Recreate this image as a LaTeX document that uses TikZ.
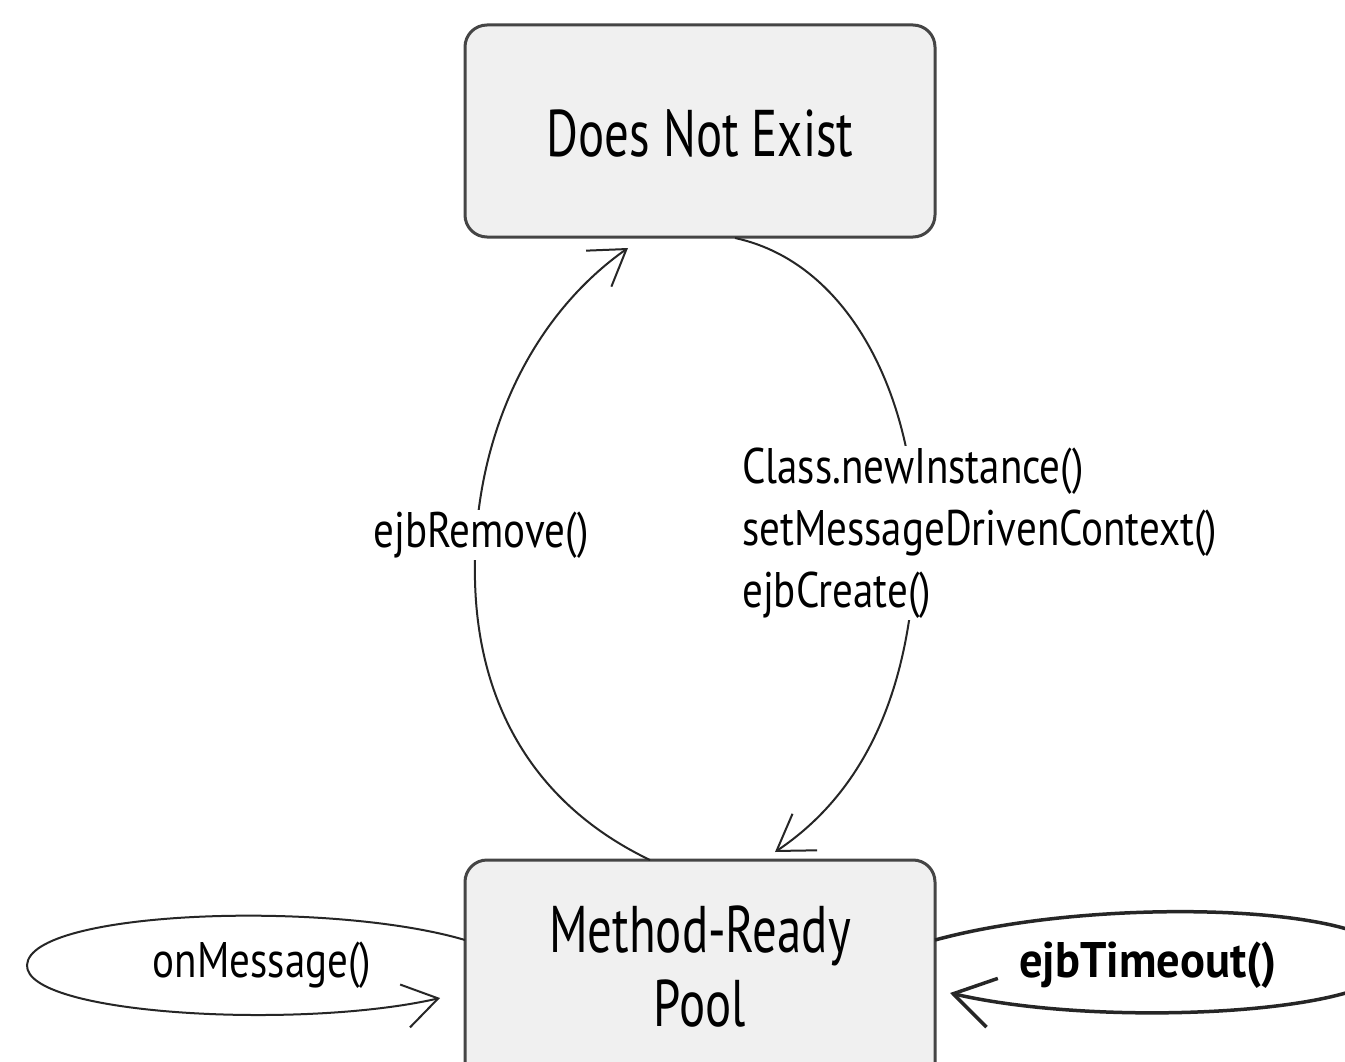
\documentclass[tikz,border=0pt]{standalone}
\usepackage{fontspec}
\setmainfont{PT Sans}[FakeStretch=0.78]
\newfontfamily\lblfont{PT Sans}[FakeStretch=0.82]
\newfontfamily\boxfont{PT Sans}[FakeStretch=0.74]
\newfontfamily\tofont{PT Sans}[FakeStretch=0.93]
\usetikzlibrary{arrows.meta}
\definecolor{boxfill}{HTML}{F0F0F0}
\definecolor{boxline}{HTML}{454545}
\tikzset{
  state/.style={draw=boxline, line width=3pt, fill=boxfill, rounded corners=22pt, inner sep=0pt},
  trans/.style={draw=black!85, line width=2pt, -{Straight Barb[length=34pt,width=44pt,line width=2pt]}},
  lbl/.style={fill=white, inner sep=2pt, font=\lblfont\fontsize{50}{62}\selectfont},
  statetext/.style={font=\boxfont\fontsize{66}{74}\selectfont}
}
\begin{document}
\begin{tikzpicture}[x=1pt,y=-1pt]
\useasboundingbox (0,0) rectangle (1345,1062);
\clip (0,0) rectangle (1345,1062);
\fill[white] (0,0) rectangle (1345,1062);
% states
\node[state, minimum width=470pt, minimum height=212pt] (top) at (700,131) {};
\node[statetext] (topt) at (700,133) {Does Not Exist};
\node[state, minimum width=470pt, minimum height=230pt] (pool) at (700,975) {};
\node[statetext, align=center] (poolt) at (700,967) {Method-Ready\\Pool};
% anchor coordinates
\coordinate (rmStart) at (650,860);
\coordinate (rmEnd) at (628,248);
\coordinate (crStart) at (735,238);
\coordinate (crEnd) at (775,852);
\coordinate (msStart) at (465,940);
\coordinate (msEnd) at (440,998);
\coordinate (toStart) at (935,940);
\coordinate (toEnd) at (950,993);
% transitions
\draw[trans] (rmStart) .. controls (525,800) and (472,690) .. (475,560)
  .. controls (478,420) and (540,310) .. (rmEnd);
\draw[trans] (crStart) .. controls (860,265) and (922,420) .. (915,560)
  .. controls (908,700) and (860,795) .. (crEnd);
\draw[trans] (msStart) .. controls (330,900) and (30,910) .. (27,965)
  .. controls (25,1015) and (300,1030) .. (msEnd);
\draw[trans, line width=3.5pt, -{Straight Barb[length=40pt,width=50pt,line width=3.5pt]}]
  (toStart) .. controls (1100,895) and (1385,905) .. (1392,960)
  .. controls (1398,1012) and (1110,1030) .. (toEnd);
% labels
\node[lbl] (lblRemove) at (481,535) {ejbRemove()};
\node[lbl, align=left, anchor=west] (lblCreate) at (740,533) {Class.newInstance()\\setMessageDrivenContext()\\ejbCreate()};
\node[lbl, fill=none] (lblMsg) at (262,965) {onMessage()};
\node[lbl, fill=none, font=\tofont\fontsize{50}{62}\selectfont\bfseries] (lblTimeout) at (1148,965) {ejbTimeout()};
\end{tikzpicture}
\end{document}
